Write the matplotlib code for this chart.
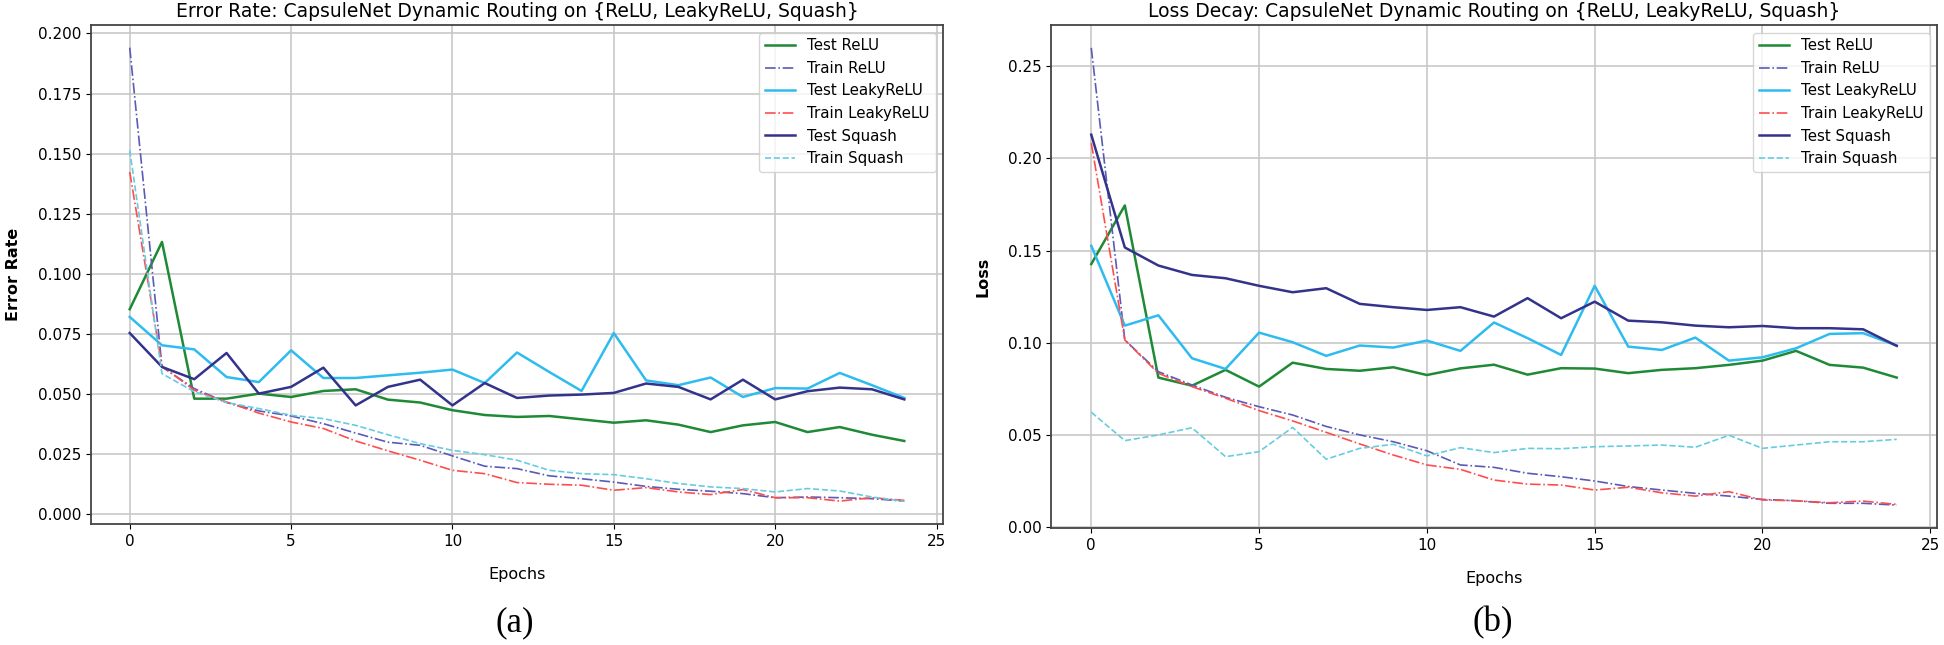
import matplotlib
matplotlib.use("Agg")
import matplotlib.pyplot as plt
import numpy as np

epochs = np.arange(25)

# (a) error rate
err_test_relu = [0.0853, 0.1133, 0.0481, 0.0481, 0.0502, 0.0488, 0.0513, 0.0520, 0.0477, 0.0465,
                 0.0433, 0.0413, 0.0405, 0.0409, 0.0395, 0.0381, 0.0391, 0.0373, 0.0342, 0.0370,
                 0.0384, 0.0342, 0.0363, 0.0331, 0.0305]
err_train_relu = [0.1941, 0.0613, 0.0523, 0.0465, 0.0430, 0.0409, 0.0377, 0.0338, 0.0300, 0.0287,
                  0.0243, 0.0200, 0.0190, 0.0160, 0.0148, 0.0134, 0.0116, 0.0104, 0.0096, 0.0086,
                  0.0069, 0.0072, 0.0069, 0.0065, 0.0055]
err_test_leaky = [0.0821, 0.0703, 0.0686, 0.0571, 0.0550, 0.0682, 0.0567, 0.0567, 0.0578, 0.0589,
                  0.0602, 0.0546, 0.0673, 0.0592, 0.0513, 0.0754, 0.0557, 0.0537, 0.0569, 0.0488,
                  0.0525, 0.0523, 0.0588, 0.0537, 0.0484]
err_train_leaky = [0.1424, 0.0616, 0.0516, 0.0467, 0.0421, 0.0384, 0.0357, 0.0305, 0.0264, 0.0225,
                   0.0183, 0.0169, 0.0132, 0.0125, 0.0121, 0.0100, 0.0111, 0.0093, 0.0082, 0.0103,
                   0.0069, 0.0069, 0.0055, 0.0069, 0.0058]
err_test_squash = [0.0754, 0.0613, 0.0562, 0.0671, 0.0502, 0.0530, 0.0610, 0.0453, 0.0530, 0.0560,
                   0.0453, 0.0546, 0.0484, 0.0494, 0.0498, 0.0505, 0.0544, 0.0530, 0.0478, 0.0560,
                   0.0478, 0.0512, 0.0527, 0.0520, 0.0478]
err_train_squash = [0.1514, 0.0585, 0.0510, 0.0465, 0.0440, 0.0412, 0.0398, 0.0370, 0.0331, 0.0294,
                    0.0266, 0.0248, 0.0225, 0.0183, 0.0169, 0.0165, 0.0148, 0.0128, 0.0114, 0.0107,
                    0.0093, 0.0107, 0.0097, 0.0072, 0.0054]

# (b) loss
loss_test_relu = [0.1427, 0.1745, 0.0811, 0.0767, 0.0853, 0.0762, 0.0892, 0.0858, 0.0848, 0.0867,
                  0.0825, 0.0861, 0.0881, 0.0827, 0.0862, 0.0860, 0.0835, 0.0853, 0.0862, 0.0880,
                  0.0903, 0.0956, 0.0880, 0.0865, 0.0811]
loss_train_relu = [0.2600, 0.1015, 0.0843, 0.0771, 0.0704, 0.0653, 0.0608, 0.0546, 0.0500, 0.0463,
                   0.0414, 0.0337, 0.0324, 0.0292, 0.0273, 0.0250, 0.0220, 0.0201, 0.0183, 0.0168,
                   0.0150, 0.0143, 0.0129, 0.0129, 0.0119]
loss_test_leaky = [0.1526, 0.1093, 0.1149, 0.0916, 0.0858, 0.1055, 0.1003, 0.0929, 0.0985, 0.0974,
                   0.1012, 0.0956, 0.1110, 0.1025, 0.0934, 0.1309, 0.0979, 0.0961, 0.1028, 0.0903,
                   0.0921, 0.0970, 0.1048, 0.1052, 0.0985]
loss_train_leaky = [0.2083, 0.1015, 0.0834, 0.0762, 0.0699, 0.0632, 0.0576, 0.0514, 0.0451, 0.0391,
                    0.0337, 0.0313, 0.0255, 0.0233, 0.0228, 0.0201, 0.0216, 0.0186, 0.0168, 0.0192,
                    0.0147, 0.0143, 0.0132, 0.0141, 0.0123]
loss_test_squash = [0.2129, 0.1517, 0.1419, 0.1368, 0.1350, 0.1309, 0.1274, 0.1296, 0.1211, 0.1193,
                    0.1178, 0.1193, 0.1142, 0.1242, 0.1133, 0.1223, 0.1120, 0.1111, 0.1093, 0.1084,
                    0.1091, 0.1079, 0.1079, 0.1073, 0.0983]
loss_train_squash = [0.0623, 0.0469, 0.0500, 0.0539, 0.0382, 0.0409, 0.0541, 0.0368, 0.0427, 0.0449,
                     0.0386, 0.0431, 0.0404, 0.0427, 0.0425, 0.0436, 0.0440, 0.0445, 0.0433, 0.0498,
                     0.0427, 0.0445, 0.0463, 0.0463, 0.0476]

labels = ['Test ReLU', 'Train ReLU', 'Test LeakyReLU', 'Train LeakyReLU', 'Test Squash', 'Train Squash']
colors = ['#1f8a35', '#5a5ab8', '#2ebcf0', '#ff4d4d', '#33338c', '#66cce0']
styles = ['-', '-.', '-', '-.', '-', '--']
widths = [1.8, 1.2, 1.8, 1.2, 1.8, 1.2]

W, H = 1944, 645
fig = plt.figure(figsize=(W / 100, H / 100), dpi=100)

def make_ax(l, r, t, b):
    return fig.add_axes([l / W, 1 - b / H, (r - l) / W, (b - t) / H])

def draw(ax, series, title, ylab, yticks, fmt):
    for s, lab, c, ls, lw in zip(series, labels, colors, styles, widths):
        ax.plot(epochs, s, color=c, linestyle=ls, linewidth=lw, label=lab)
    ax.set_title(title, fontsize=13.5)
    ax.set_xlabel('Epochs', fontsize=11.5, labelpad=13)
    ax.set_ylabel(ylab, fontsize=11.5, fontweight='bold', labelpad=12)
    ax.set_yticks(yticks)
    ax.set_yticklabels([fmt % v for v in yticks])
    ax.set_xticks([0, 5, 10, 15, 20, 25])
    ax.tick_params(labelsize=11)
    ax.grid(True, color='#c8c8c8', linewidth=1.2)
    for sp in ax.spines.values():
        sp.set_color('#444444')
        sp.set_linewidth(1.3)
    ax.legend(loc='upper right', fontsize=10.8)

ax1 = make_ax(91, 943, 25, 524)
draw(ax1, [err_test_relu, err_train_relu, err_test_leaky, err_train_leaky, err_test_squash, err_train_squash],
     'Error Rate: CapsuleNet Dynamic Routing on {ReLU, LeakyReLU, Squash}', 'Error Rate',
     np.arange(0, 0.201, 0.025), '%.3f')

ax2 = make_ax(1051, 1937, 25, 528)
draw(ax2, [loss_test_relu, loss_train_relu, loss_test_leaky, loss_train_leaky, loss_test_squash, loss_train_squash],
     'Loss Decay: CapsuleNet Dynamic Routing on {ReLU, LeakyReLU, Squash}', 'Loss',
     np.arange(0, 0.251, 0.05), '%.2f')

fig.text(515 / W, 1 - 623 / H, '(a)', ha='center', va='center', family='Liberation Serif', fontsize=25)
fig.text(1493 / W, 1 - 623 / H, '(b)', ha='center', va='center', family='Liberation Serif', fontsize=25)

fig.savefig('out.png', dpi=100)
